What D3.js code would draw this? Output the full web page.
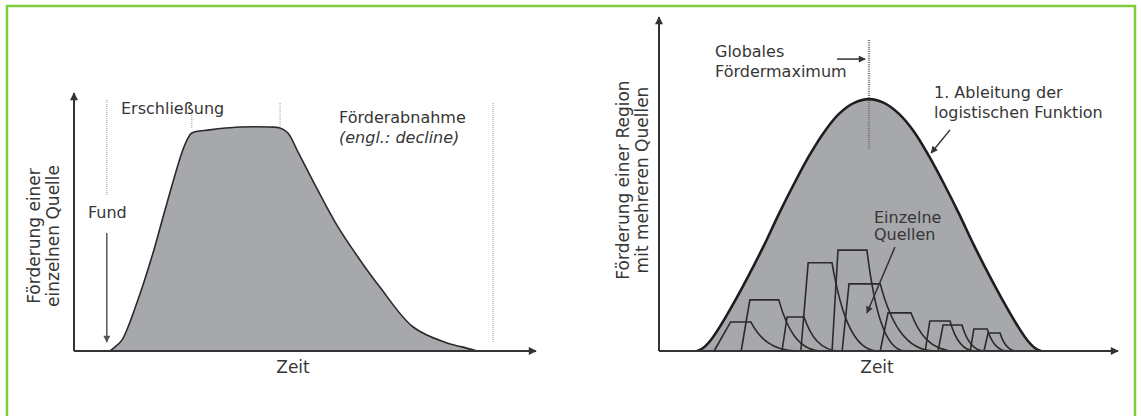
<!DOCTYPE html>
<html><head><meta charset="utf-8">
<script src="https://cdn.jsdelivr.net/npm/d3@7"></script>
<style>
body{margin:0;background:#fff}
svg{display:block}
text{font-family:"DejaVu Sans",sans-serif;fill:#363636}
</style>
</head><body>
<svg id="c" width="1141" height="416"></svg>
<script>
// ---------- DATA ----------
// Left chart: production of a single well (time 0-100, production 0-100)
const singleTime = [7.8, 8.9, 10.4, 13.6, 17.1, 19.1, 23.4, 24.7, 25.5, 29.4, 35.9, 42.4, 44.6, 46.3, 48.5, 52.2, 56.9, 61.9, 66.2, 73.4, 80.7, 84.0, 87.2];
const singleProd = [0, 1.6, 4.3, 18.6, 38.0, 50.8, 77.1, 82.6, 84.5, 85.7, 86.8, 86.8, 86.4, 84.5, 77.1, 64.3, 48.8, 35.3, 24.8, 9.3, 3.1, 1.6, 0];
const phaseMarks = [7.1, 25.5, 44.6, 90.7];           // Fund, Erschließung end, plateau end, decline end
const phaseTop = [97.3, 92.2, 96.1, 96.1];
const phaseBottom = [60.5, 86.4, 86.8, 3.1];

// Right chart: regional production (1st derivative of logistic function)
const regionTime = [8.3, 9.6, 11.3, 13.5, 16.3, 19.6, 22.9, 26.1, 29.4, 32.7, 36.0, 39.2, 42.5, 45.75,
                    49.0, 52.3, 55.6, 58.8, 62.1, 65.4, 68.6, 71.9, 75.2, 78.0, 80.2, 81.9, 83.2];
const regionProd = [0, 0.9, 3.3, 7.8, 14.4, 22.8, 31.7, 41.0, 50.0, 58.4, 65.6, 71.0, 74.3, 75.4,
                    74.3, 71.0, 65.6, 58.4, 50.0, 41.0, 31.7, 22.8, 14.4, 7.8, 3.3, 0.9, 0];
const peakTime = 45.75;

// Individual wells inside the region
const wellNames     = ["A", "B", "C", "D", "E", "F", "G", "H", "I", "J", "K"];
const wellStart     = [12.0, 17.9, 26.8, 30.9, 37.7, 39.9, 48.2, 58.0, 60.8, 67.8, 70.8];
const wellPlateauA  = [15.6, 19.8, 27.9, 32.5, 39.0, 41.4, 49.9, 59.0, 61.9, 68.6, 71.7];
const wellPlateauB  = [20.0, 26.1, 31.6, 37.7, 45.3, 48.2, 54.9, 63.4, 66.0, 71.5, 74.3];
const wellEnd       = [30.1, 35.5, 39.4, 47.7, 53.6, 60.1, 64.5, 68.9, 71.0, 76.0, 78.0];
const wellHeight    = [8.7, 15.3, 10.2, 26.4, 30.2, 20.1, 11.4, 9.0, 7.8, 6.6, 5.4];

// Labels
const leftYLabel = ["Förderung einer", "einzelnen Quelle"];
const rightYLabel = ["Förderung einer Region", "mit mehreren Quellen"];
const xLabel = "Zeit";

// ---------- DRAW ----------
const svg = d3.select("#c");
const defs = svg.append("defs");
function marker(id, color, w, h) {
  defs.append("marker").attr("id", id)
    .attr("viewBox", "0 0 10 10").attr("refX", 9).attr("refY", 5)
    .attr("markerUnits", "userSpaceOnUse")
    .attr("markerWidth", w).attr("markerHeight", h)
    .attr("orient", "auto")
    .append("path").attr("d", "M0,0 L10,5 L0,10 Z").attr("fill", color);
}
marker("axArr", "#333", 11, 8);
marker("smArr", "#333", 9, 7);
marker("grArr", "#555", 9, 7);

// green frame
svg.append("rect").attr("x", 7).attr("y", 6).attr("width", 1128).attr("height", 430)
  .attr("fill", "none").attr("stroke", "#7fcc3c").attr("stroke-width", 2.5);

const FILL = "#a6a8ab";
const CURVE = d3.curveCatmullRom.alpha(0.5);

// ---- Left chart ----
const xL = d3.scaleLinear().domain([0, 100]).range([74, 536]);
const yL = d3.scaleLinear().domain([0, 100]).range([351, 93]);
const gL = svg.append("g");

// phase dotted lines
gL.selectAll("line.phase").data(phaseMarks).join("line")
  .attr("x1", d => xL(d)).attr("x2", d => xL(d))
  .attr("y1", (d, i) => yL(phaseTop[i])).attr("y2", (d, i) => yL(phaseBottom[i]))
  .attr("stroke", "#aaa").attr("stroke-width", 1.2).attr("stroke-dasharray", "1,1");

const leftPts = singleTime.map((t, i) => [t, singleProd[i]]);
gL.append("path").datum(leftPts)
  .attr("d", d3.area().x(d => xL(d[0])).y0(yL(0)).y1(d => yL(d[1])).curve(CURVE))
  .attr("fill", FILL);
gL.append("path").datum(leftPts)
  .attr("d", d3.line().x(d => xL(d[0])).y(d => yL(d[1])).curve(CURVE))
  .attr("fill", "none").attr("stroke", "#2a2a2a").attr("stroke-width", 1.6);

// axes
gL.append("line").attr("x1", xL(0)).attr("x2", xL(0)).attr("y1", yL(0)).attr("y2", yL(100))
  .attr("stroke", "#333").attr("stroke-width", 2).attr("marker-end", "url(#axArr)");
gL.append("line").attr("x1", xL(0)).attr("x2", xL(100)).attr("y1", yL(0)).attr("y2", yL(0))
  .attr("stroke", "#333").attr("stroke-width", 2).attr("marker-end", "url(#axArr)");

// Fund arrow
gL.append("line").attr("x1", xL(7.1)).attr("x2", xL(7.1)).attr("y1", yL(45.7)).attr("y2", yL(3.5))
  .attr("stroke", "#555").attr("stroke-width", 1.5).attr("marker-end", "url(#grArr)");

gL.append("text").attr("x", 88).attr("y", 218).attr("font-size", 16).text("Fund");
gL.append("text").attr("x", 121).attr("y", 114).attr("font-size", 16).text("Erschließung");
gL.append("text").attr("x", 339).attr("y", 123).attr("font-size", 16).text("Förderabnahme");
gL.append("text").attr("x", 339).attr("y", 143).attr("font-size", 16).attr("font-style", "italic").text("(engl.: decline)");
gL.append("text").attr("x", (xL(0) + xL(100)) / 2 - 12).attr("y", 373).attr("font-size", 17)
  .attr("text-anchor", "middle").text(xLabel);
leftYLabel.forEach((s, i) => {
  gL.append("text").attr("transform", `translate(${40 + i * 19},236) rotate(-90)`)
    .attr("font-size", 17).attr("text-anchor", "middle").text(s);
});

// ---- Right chart ----
const xR = d3.scaleLinear().domain([0, 100]).range([659, 1118]);
const yR = d3.scaleLinear().domain([0, 100]).range([351, 17]);
const gR = svg.append("g");

const regionPts = regionTime.map((t, i) => [t, regionProd[i]]);
gR.append("path").datum(regionPts)
  .attr("d", d3.area().x(d => xR(d[0])).y0(yR(0)).y1(d => Math.min(yR(0), yR(d[1]))).curve(CURVE))
  .attr("fill", FILL);

// wells
const wells = wellNames.map((n, i) => ({
  s: wellStart[i], a: wellPlateauA[i], b: wellPlateauB[i], e: wellEnd[i], h: wellHeight[i]
}));
gR.selectAll("path.well").data(wells).join("path")
  .attr("class", "well")
  .attr("d", w => {
    const p = d3.path();
    const base = yR(0), top = yR(w.h);
    const x2 = xR(w.b), x3 = xR(w.e), wd = x3 - x2, H = base - top;
    p.moveTo(xR(w.s), base);
    p.lineTo(xR(w.a), top);
    p.lineTo(x2, top);
    p.bezierCurveTo(x2 + 0.18 * wd, top + 0.55 * H, x2 + 0.45 * wd, base, x3, base);
    return p.toString();
  })
  .attr("fill", "none").attr("stroke", "#2a2a2a").attr("stroke-width", 1.6);

// peak dotted line
gR.append("line").attr("x1", xR(peakTime)).attr("x2", xR(peakTime)).attr("y1", yR(93.1)).attr("y2", yR(60.2))
  .attr("stroke", "#777").attr("stroke-width", 2.4).attr("stroke-dasharray", "1,1.2");

gR.append("path").datum(regionPts)
  .attr("d", d3.line().x(d => xR(d[0])).y(d => Math.min(yR(0), yR(d[1]))).curve(CURVE))
  .attr("fill", "none").attr("stroke", "#1e1e1e").attr("stroke-width", 2.6);

// axes
gR.append("line").attr("x1", xR(0)).attr("x2", xR(0)).attr("y1", yR(0)).attr("y2", yR(100))
  .attr("stroke", "#333").attr("stroke-width", 2).attr("marker-end", "url(#axArr)");
gR.append("line").attr("x1", xR(0)).attr("x2", xR(100)).attr("y1", yR(0)).attr("y2", yR(0))
  .attr("stroke", "#333").attr("stroke-width", 2).attr("marker-end", "url(#axArr)");

// annotation arrows
gR.append("line").attr("x1", xR(38.8)).attr("x2", xR(44.9)).attr("y1", yR(87.4)).attr("y2", yR(87.4))
  .attr("stroke", "#333").attr("stroke-width", 1.5).attr("marker-end", "url(#smArr)");
gR.append("line").attr("x1", xR(63.4)).attr("x2", xR(59.3)).attr("y1", yR(66.2)).attr("y2", yR(59.3))
  .attr("stroke", "#333").attr("stroke-width", 1.5).attr("marker-end", "url(#smArr)");
gR.append("line").attr("x1", xR(51.4)).attr("x2", xR(45.3)).attr("y1", yR(31.1)).attr("y2", yR(11.4))
  .attr("stroke", "#333").attr("stroke-width", 1.5).attr("marker-end", "url(#smArr)");

gR.append("text").attr("x", 715).attr("y", 57).attr("font-size", 16).text("Globales");
gR.append("text").attr("x", 715).attr("y", 77).attr("font-size", 16).text("Fördermaximum");
gR.append("text").attr("x", 934).attr("y", 98).attr("font-size", 16).text("1. Ableitung der");
gR.append("text").attr("x", 934).attr("y", 118).attr("font-size", 16).text("logistischen Funktion");
gR.append("text").attr("x", 874).attr("y", 223).attr("font-size", 16).text("Einzelne");
gR.append("text").attr("x", 874).attr("y", 240).attr("font-size", 16).text("Quellen");
gR.append("text").attr("x", 877).attr("y", 373).attr("font-size", 17)
  .attr("text-anchor", "middle").text(xLabel);
rightYLabel.forEach((s, i) => {
  gR.append("text").attr("transform", `translate(${629 + i * 19},180) rotate(-90)`)
    .attr("font-size", 17).attr("text-anchor", "middle").text(s);
});
</script>
</body></html>
